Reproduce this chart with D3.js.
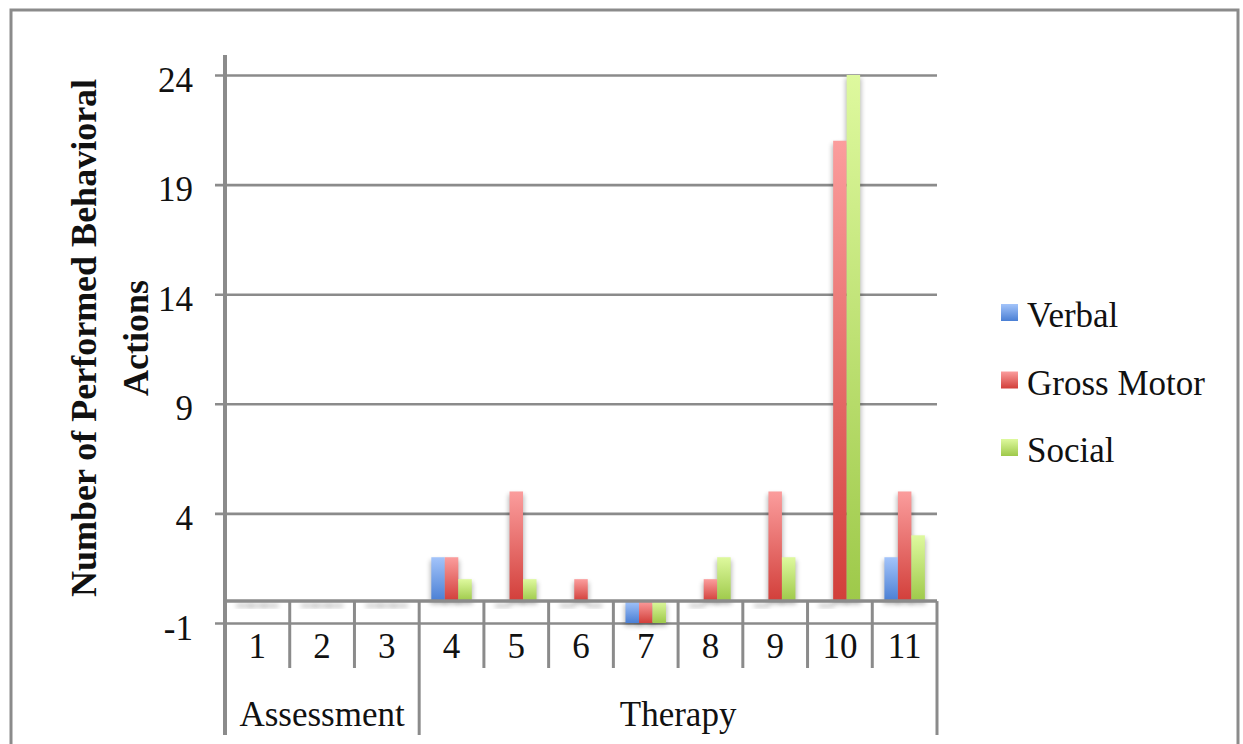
<!DOCTYPE html>
<html>
<head>
<meta charset="utf-8">
<script src="https://cdnjs.cloudflare.com/ajax/libs/d3/7.8.5/d3.min.js"></script>
<style>
  html, body { margin: 0; padding: 0; background: #fff; }
  svg { display: block; }
  text { font-family: "Liberation Serif", "Times New Roman", serif; fill: #111; }
</style>
</head>
<body>
<svg id="chart" width="1243" height="744"></svg>
<script>
// Sessions, grouped into study phases
const sessions = ["1", "2", "3", "4", "5", "6", "7", "8", "9", "10", "11"];
const phaseNames = ["Assessment", "Therapy"];
const phaseSizes = [3, 8];

// Behavioral actions per session
const seriesNames = ["Verbal", "Gross Motor", "Social"];
const verbal     = [0, 0, 0, 2, 0, 0, -1, 0, 0, 0, 2];
const grossMotor = [0, 0, 0, 2, 5, 1, -1, 1, 5, 21, 5];
const social     = [0, 0, 0, 1, 1, 0, -1, 2, 2, 24, 3];

const yTicks = [-1, 4, 9, 14, 19, 24];
const yTitleLines = ["Number of Performed Behavioral", "Actions"];

const seriesValues = [verbal, grossMotor, social];
const gradientStops = [
  ["#a3c4fa", "#4a7fd4"],
  ["#fb9d9d", "#d23f3a"],
  ["#def99e", "#9ec94a"]
];

const svg = d3.select("#chart");
const gray = "#8b8b8b";

const left = 225, right = 937;
const x = d3.scaleBand().domain(sessions).range([left, right]);
const y = d3.scaleLinear().domain([-1, 24]).range([623, 75]);

// Series positions inside each session band (Excel-style gap width)
const gapRatio = 1.8;
const barW = x.bandwidth() / (seriesNames.length + gapRatio);
const inner = d3.scaleBand().domain(seriesNames)
  .range([barW * gapRatio / 2, barW * gapRatio / 2 + barW * seriesNames.length]);

const defs = svg.append("defs");
seriesNames.forEach((s, i) => {
  const g = defs.append("linearGradient").attr("id", "grad" + i)
    .attr("x1", 0).attr("y1", 0).attr("x2", 0).attr("y2", 1);
  g.append("stop").attr("offset", "0%").attr("stop-color", gradientStops[i][0]);
  g.append("stop").attr("offset", "100%").attr("stop-color", gradientStops[i][1]);
});
defs.append("filter").attr("id", "soft")
  .attr("x", "-50%").attr("y", "-50%").attr("width", "200%").attr("height", "200%")
  .append("feGaussianBlur").attr("stdDeviation", 2.6);

// Outer frame
svg.append("rect").attr("x", 11).attr("y", 10).attr("width", 1227).attr("height", 800)
  .attr("fill", "none").attr("stroke", gray).attr("stroke-width", 3);

// Value axis with gridlines
const yAxis = d3.axisLeft(y).tickValues(yTicks)
  .tickFormat(d => String(d))
  .tickSize(-(right - (left - 10))).tickPadding(22);
const yg = svg.append("g").attr("transform", `translate(${left - 10},0)`).call(yAxis);
yg.select(".domain").remove();
yg.selectAll(".tick line").attr("stroke", gray).attr("stroke-width", 2.6);
yg.selectAll(".tick text")
  .attr("dy", null).attr("y", 16)
  .style("font-size", "35px").style("font-family", "'Liberation Serif', serif")
  .attr("fill", "#111");

// Flattened bar records
const bars = [];
sessions.forEach((s, ci) => {
  seriesNames.forEach((name, si) => {
    bars.push({ session: s, series: name, si, value: seriesValues[si][ci] });
  });
});

// Soft shadows under the bars
svg.append("g").selectAll("rect").data(bars).join("rect")
  .attr("x", d => x(d.session) + inner(d.series) - 1)
  .attr("y", d => y(Math.max(d.value, 0)) + 3)
  .attr("width", barW + 2)
  .attr("height", d => Math.max(Math.abs(y(d.value) - y(0)), 3))
  .attr("fill", "#000").attr("opacity", 0.28)
  .attr("filter", "url(#soft)");

// Bars
svg.append("g").selectAll("rect").data(bars.filter(d => d.value !== 0)).join("rect")
  .attr("x", d => x(d.session) + inner(d.series))
  .attr("y", d => y(Math.max(d.value, 0)))
  .attr("width", barW)
  .attr("height", d => Math.abs(y(d.value) - y(0)))
  .attr("fill", d => `url(#grad${d.si})`);

// Category axis at zero and the label table beneath it
svg.append("line").attr("x1", left).attr("x2", right)
  .attr("y1", y(0)).attr("y2", y(0))
  .attr("stroke", gray).attr("stroke-width", 3.5);

const boundaries = sessions.map((s, i) => x(s) + x.bandwidth());
let acc = 0;
const phaseEdges = phaseSizes.map(n => { acc += n; return acc; });
svg.append("g").selectAll("line").data(boundaries).join("line")
  .attr("x1", d => d).attr("x2", d => d)
  .attr("y1", y(0))
  .attr("y2", (d, i) => phaseEdges.includes(i + 1) ? 735 : 668)
  .attr("stroke", gray).attr("stroke-width", 3);

// Value axis line
svg.append("line").attr("x1", left).attr("x2", left)
  .attr("y1", 55).attr("y2", 735)
  .attr("stroke", gray).attr("stroke-width", 4);

// Session numbers
svg.append("g").selectAll("text").data(sessions).join("text")
  .attr("x", d => x(d) + x.bandwidth() / 2)
  .attr("y", 658)
  .attr("text-anchor", "middle")
  .style("font-size", "35px")
  .text(d => d);

// Phase names
let start = 0;
const phases = phaseNames.map((n, i) => {
  const p = { name: n, from: start, to: start + phaseSizes[i] };
  start += phaseSizes[i];
  return p;
});
svg.append("g").selectAll("text").data(phases).join("text")
  .attr("x", d => (x(sessions[d.from]) + x(sessions[d.to - 1]) + x.bandwidth()) / 2)
  .attr("y", 726)
  .attr("text-anchor", "middle")
  .style("font-size", "35px")
  .text(d => d.name);

// Value axis title
const yTitle = svg.append("text")
  .attr("transform", "translate(95.5,338) rotate(-90)")
  .attr("text-anchor", "middle")
  .style("font-size", "36px").style("font-weight", "bold");
yTitleLines.forEach((t, i) => {
  yTitle.append("tspan").attr("x", 0).attr("y", i * 52).text(t);
});

// Legend
const legend = svg.append("g").selectAll("g").data(seriesNames).join("g")
  .attr("transform", (d, i) => `translate(1001,${327 + i * 67.5})`);
legend.append("rect")
  .attr("x", 0).attr("y", -23).attr("width", 17).attr("height", 17)
  .attr("fill", (d, i) => `url(#grad${i})`);
legend.append("text")
  .attr("x", 26).attr("y", 0)
  .style("font-size", "35px")
  .text(d => d);
</script>
</body>
</html>
